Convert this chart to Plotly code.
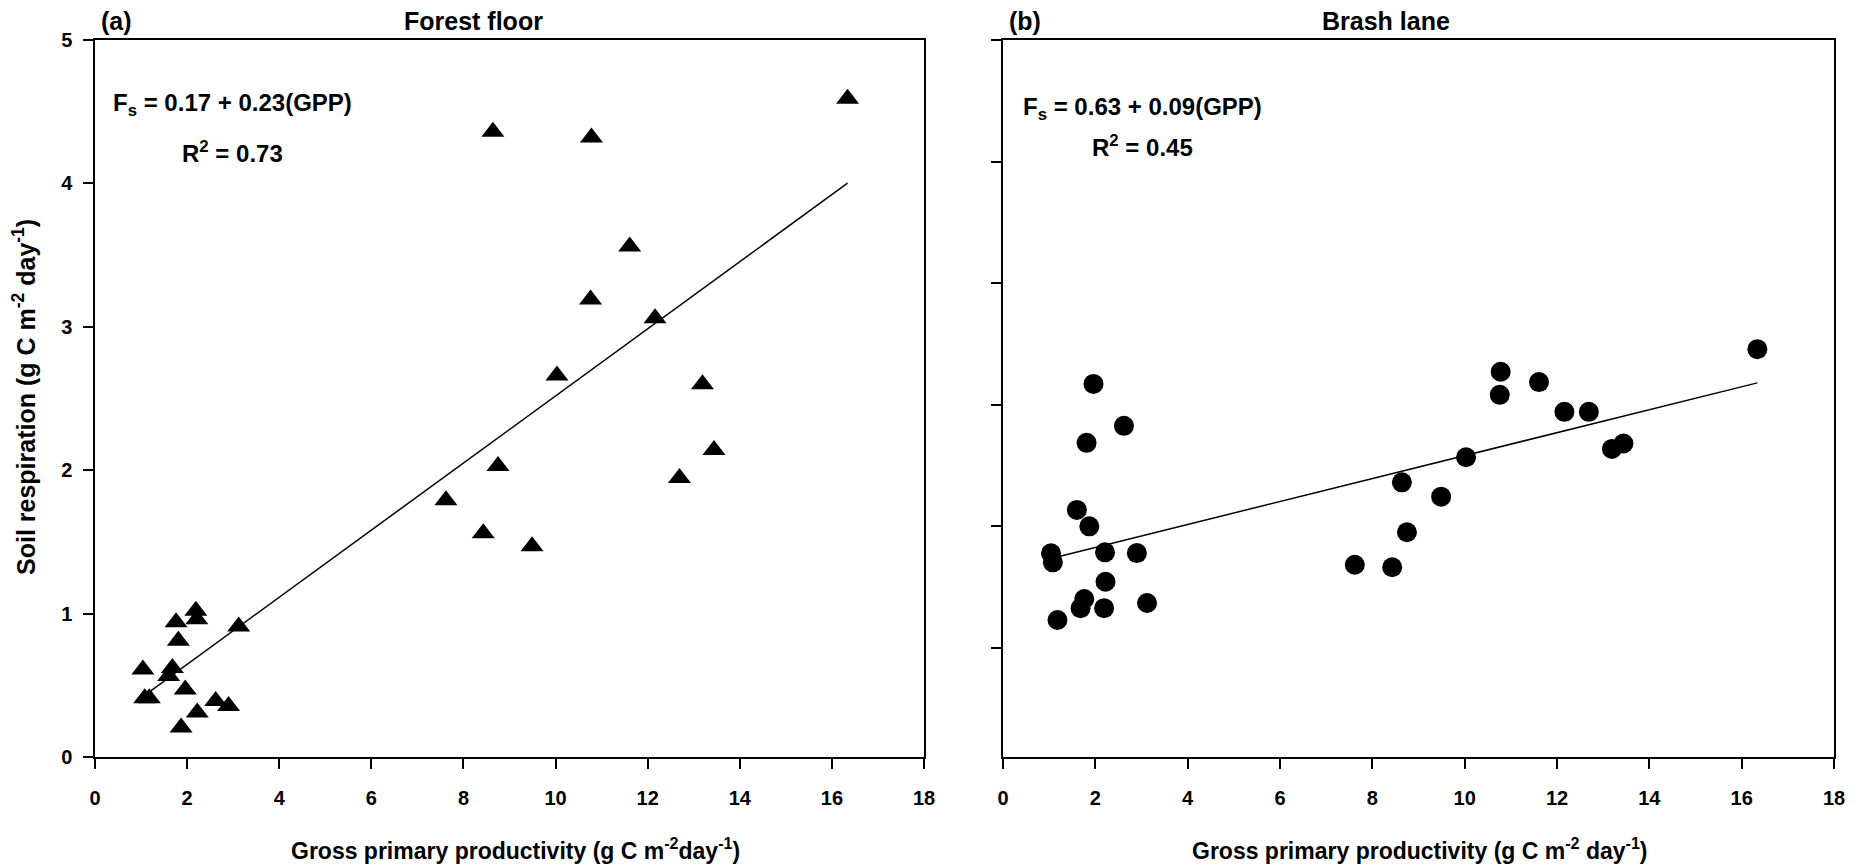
import plotly.graph_objects as go

# ---------------- data ----------------
gpp = [1.04, 1.08, 1.18, 1.60, 1.68, 1.76, 1.81, 1.87, 1.96, 2.19, 2.21, 2.22,
       2.62, 2.90, 3.12, 7.62, 8.43, 8.64, 8.75, 9.49, 10.03, 10.76, 10.78,
       11.61, 12.16, 12.69, 13.19, 13.44, 16.34]
fs_forest = [0.61, 0.41, 0.41, 0.565, 0.62, 0.94, 0.81, 0.205, 0.47, 1.02, 0.96, 0.31,
             0.39, 0.356, 0.91, 1.79, 1.56, 4.36, 2.03, 1.47, 2.66, 3.19, 4.32,
             3.56, 3.06, 1.945, 2.60, 2.14, 4.59]
fs_brash = [0.776, 0.702, 0.227, 1.133, 0.325, 0.40, 1.685, 0.998, 2.17, 0.325, 0.784, 0.542,
            1.825, 0.778, 0.367, 0.682, 0.661, 1.36, 0.949, 1.242, 1.567, 2.08, 2.27,
            2.185, 1.94, 1.94, 1.635, 1.68, 2.456]
fit_forest = [0.178, 0.234]   # intercept, slope
fit_brash = [0.636, 0.0944]
x_ticks = [0, 2, 4, 6, 8, 10, 12, 14, 16, 18]
y_ticks = [0, 1, 2, 3, 4, 5]
panel_titles = ["Forest floor", "Brash lane"]
panel_letters = ["(a)", "(b)"]
eq_lines = [["F<sub>s</sub> = 0.17 + 0.23(GPP)", "R<sup>2</sup> = 0.73"],
            ["F<sub>s</sub> = 0.63 + 0.09(GPP)", "R<sup>2</sup> = 0.45"]]
x_titles = ["Gross primary productivity (g C m<sup>-2</sup>day<sup>-1</sup>)",
            "Gross primary productivity (g C m<sup>-2</sup> day<sup>-1</sup>)"]
y_title = "Soil respiration (g C m<sup>-2</sup> day<sup>-1</sup>)"

# ---------------- layout geometry ----------------
W, H = 1862, 867
L, R, T, B = 95, 28, 40, 110
PW = W - L - R
PH = H - T - B
dom_a = [0, (924 - L) / PW]
dom_b = [(1003 - L) / PW, 1]

FONT = "Liberation Sans, Arial, sans-serif"

fig = go.Figure()

xline = [min(gpp), max(gpp)]

fig.add_trace(go.Scatter(x=gpp, y=fs_forest, mode="markers",
                         marker=dict(symbol="triangle-up", size=20, color="black"),
                         xaxis="x", yaxis="y", showlegend=False))
fig.add_trace(go.Scatter(x=xline, y=[fit_forest[0] + fit_forest[1] * v for v in xline],
                         mode="lines", line=dict(color="black", width=1.5),
                         xaxis="x", yaxis="y", showlegend=False))
fig.add_trace(go.Scatter(x=gpp, y=fs_brash, mode="markers",
                         marker=dict(symbol="circle", size=20, color="black"),
                         xaxis="x2", yaxis="y2", showlegend=False))
fig.add_trace(go.Scatter(x=xline, y=[fit_brash[0] + fit_brash[1] * v for v in xline],
                         mode="lines", line=dict(color="black", width=1.5),
                         xaxis="x2", yaxis="y2", showlegend=False))

tickfont = dict(family=FONT, size=20, color="black", weight="bold")

def xaxis(domain, anchor):
    return dict(domain=domain, anchor=anchor, range=[0, 18], tickvals=x_ticks,
                ticks="outside", ticklen=10, tickwidth=1.5, tickcolor="black",
                showline=True, linecolor="black", linewidth=2, mirror=True,
                showgrid=False, zeroline=False, tickfont=tickfont,
                ticklabelstandoff=12)

def yaxis(anchor, rng, labels):
    return dict(domain=[0, 1], anchor=anchor, range=rng, tickvals=y_ticks,
                ticks="outside", ticklen=10, tickwidth=1.5, tickcolor="black",
                showline=True, linecolor="black", linewidth=1.5, mirror=True,
                showgrid=False, zeroline=False, tickfont=tickfont,
                showticklabels=labels, ticklabelstandoff=7)

ann = []
def txt(text, x, y, size, xanchor="left", yanchor="middle", angle=0):
    ann.append(dict(text=text, x=x, y=y, xref="paper", yref="paper",
                    xanchor=xanchor, yanchor=yanchor, showarrow=False,
                    textangle=angle,
                    font=dict(family=FONT, size=size, color="black", weight="bold")))

def px_x(p):
    return (p - L) / PW

def px_y(p):
    return (H - B - p) / PH

# panel letters and titles
txt(panel_letters[0], px_x(99), px_y(21), 25)
txt(panel_titles[0], px_x(473), px_y(21), 25, xanchor="center")
txt(panel_letters[1], px_x(1007), px_y(21), 25)
txt(panel_titles[1], px_x(1386), px_y(21), 25, xanchor="center")
# equations
txt(eq_lines[0][0], px_x(111), px_y(104), 24)
txt(eq_lines[0][1], px_x(180), px_y(152), 24)
txt(eq_lines[1][0], px_x(1021), px_y(109), 24)
txt(eq_lines[1][1], px_x(1090), px_y(146), 24)
# axis titles
txt(x_titles[0], px_x(515), px_y(849), 23, xanchor="center")
txt(x_titles[1], px_x(1420), px_y(849), 23, xanchor="center")
txt(y_title, px_x(24), px_y(397), 25, xanchor="center", angle=-90)

fig.update_layout(
    width=W, height=H,
    margin=dict(l=L, r=R, t=T, b=B, pad=0),
    paper_bgcolor="white", plot_bgcolor="white",
    xaxis=xaxis(dom_a, "y"),
    yaxis=yaxis("x", [0, 5], True),
    xaxis2=xaxis(dom_b, "y2"),
    yaxis2=yaxis("x2", [-0.9, 5], False),
    annotations=ann,
    font=dict(family=FONT, color="black"),
)

fig.write_html("out.html",
               config={"displayModeBar": False},
               post_script="document.body.style.margin='0';"
                           "document.body.style.overflow='hidden';")
